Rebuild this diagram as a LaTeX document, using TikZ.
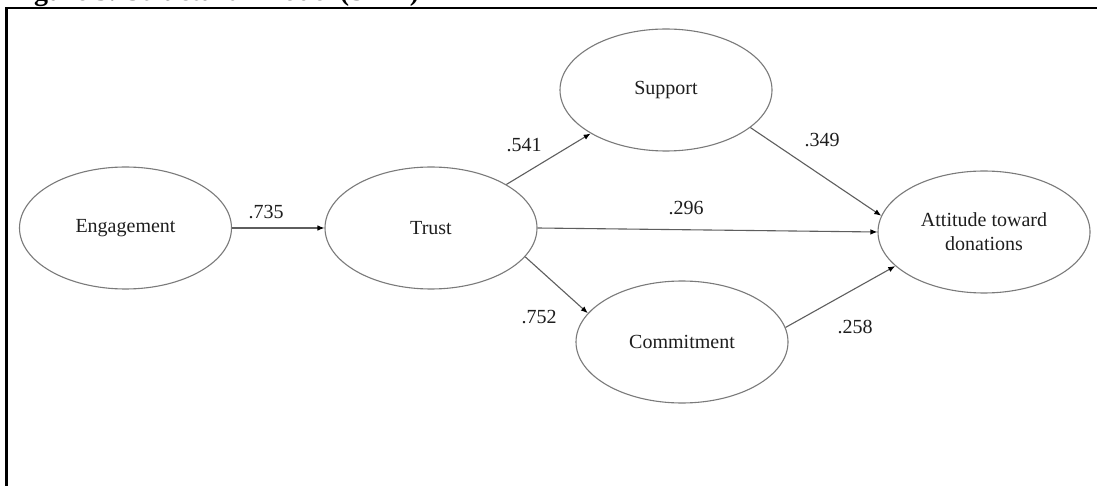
\documentclass[tikz,border=0pt]{standalone}
\usepackage{fontspec}
\setmainfont{Liberation Serif}
\usetikzlibrary{arrows.meta,shapes.geometric}
\definecolor{outl}{HTML}{7A7A7A}
\definecolor{conn}{HTML}{5E5E5E}
\definecolor{txt}{HTML}{1E1E1E}
\tikzset{
  latent/.style={ellipse, draw=outl, line width=1.1pt, minimum width=212pt, minimum height=122pt,
    inner sep=0pt, align=center, text=txt, font=\fontsize{20}{24}\selectfont},
  semarrow/.style={draw=conn, line width=1.1pt, -{Latex[length=7pt,width=5.5pt,black]}},
  coef/.style={text=txt, font=\fontsize{20}{24}\selectfont, inner sep=0pt},
  frameline/.style={draw=black, line width=2.6pt},
  titletext/.style={text=black, font=\bfseries\fontsize{28}{32}\selectfont, inner sep=0pt, anchor=base west}
}
\begin{document}
\begin{tikzpicture}[x=1pt,y=-1pt]
\useasboundingbox (0,0) rectangle (1097,486);
\clip (0,0) rectangle (1097,486);
\fill[white] (0,0) rectangle (1097,486);

% title (cut off at top)
\node[titletext] (title) at (9,0.5) {Figure 3. Structural Model (SEM)};

% frame
\coordinate (fbl) at (6.5,492);
\coordinate (ftr) at (1102,8);
\draw[frameline] (fbl) |- (ftr);

% latent variables
\node[latent] (eng) at (125.5,228) {Engagement};
\node[latent] (trust) at (431,228) {Trust};
\node[latent] (sup) at (666,90) {Support};
\node[latent] (com) at (682,342) {Commitment};
\node[latent] (att) at (984,232) {Attitude toward\\donations};

% paths
\draw[semarrow] (eng.east) -- (trust.west);
\draw[semarrow] (trust.30) -- (sup.210);
\draw[semarrow] (sup.336) -- (att.171);
\draw[semarrow] (trust.east) -- (att.west);
\draw[semarrow] (trust.343) -- (com.163);
\draw[semarrow] (com.8) -- (att.201);

% coefficients
\node[coef] (c1) at (266,212) {.735};
\node[coef] (c2) at (524,145) {.541};
\node[coef] (c3) at (822,140) {.349};
\node[coef] (c4) at (686,208) {.296};
\node[coef] (c5) at (539,317) {.752};
\node[coef] (c6) at (855,327) {.258};
\end{tikzpicture}
\end{document}
